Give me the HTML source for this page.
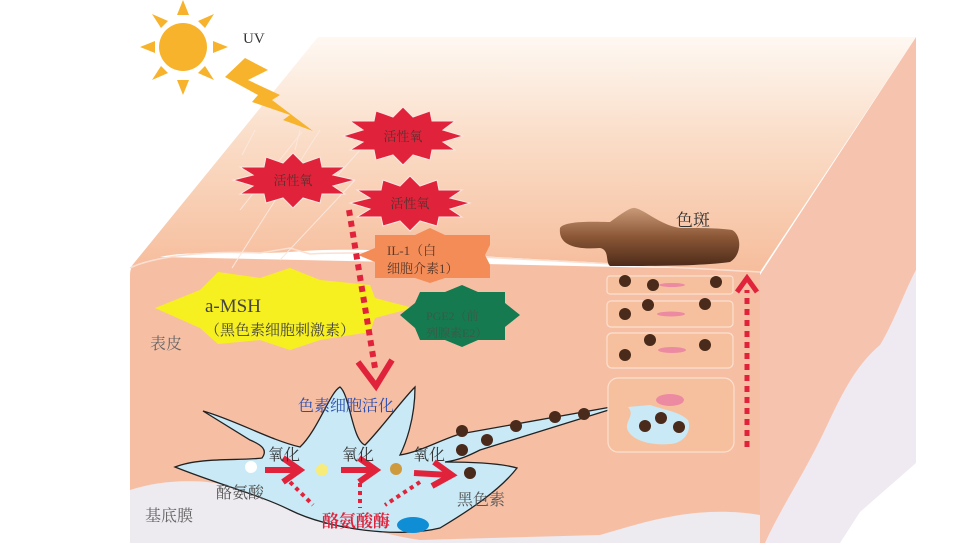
<!DOCTYPE html>
<html><head><meta charset="utf-8"><style>
html,body{margin:0;padding:0;background:#fff;width:962px;height:543px;overflow:hidden}
svg{display:block}
text{font-family:"Liberation Serif","Noto Serif CJK SC","Noto Sans CJK SC",serif}
</style></head><body>
<svg width="962" height="543" viewBox="0 0 962 543" xmlns="http://www.w3.org/2000/svg">
<defs>
<linearGradient id="top" x1="0" y1="0" x2="0" y2="1">
<stop offset="0" stop-color="#fef8f2"/><stop offset="0.45" stop-color="#fadcc6"/><stop offset="1" stop-color="#f6bd9c"/>
</linearGradient>
<linearGradient id="spot" x1="0" y1="0" x2="0" y2="1">
<stop offset="0" stop-color="#c99a78"/><stop offset="0.5" stop-color="#8a5636"/><stop offset="1" stop-color="#4e2c1a"/>
</linearGradient>
</defs>
<rect width="962" height="543" fill="#fff"/>
<!-- right face -->
<path d="M760,275 L916,37 L916,543 L760,543 Z" fill="#f6c3ae"/>
<path d="M916,270 C905,290 895,320 880,345 C850,370 835,410 820,440 C800,480 780,510 765,543 L916,543 Z" fill="#efeaf1"/>
<path d="M916,463 L860,512 L840,543 L916,543 Z" fill="#fff"/>
<!-- front face -->
<path d="M130,275 C130,262 140,258 160,257 L760,270 L760,543 L130,543 Z" fill="#f6bfa4"/>
<!-- top face -->
<path d="M318,37 L916,37 L760,272 C600,262 500,258 420,252 C380,250 330,248 290,252 C240,255 190,250 160,257 C145,260 135,262 130,268 Z" fill="url(#top)"/>
<path d="M130,268 C150,258 200,250 260,253 L290,248 L310,254 C380,250 500,258 760,272" fill="none" stroke="#fbe0d2" stroke-width="1.5"/>
<!-- basement membrane -->
<path d="M130,490 C160,480 200,478 230,486 C300,500 350,530 420,540 L600,535 C650,520 700,505 760,515 L760,543 L130,543 Z" fill="#edeaf0"/>
<!-- UV light streaks -->
<g stroke="#fbe7dc" stroke-width="1" fill="none">
<line x1="320" y1="130" x2="232" y2="268"/><line x1="302" y1="132" x2="240" y2="210"/><line x1="355" y1="180" x2="280" y2="260"/><line x1="360" y1="150" x2="320" y2="195"/><line x1="255" y1="130" x2="242" y2="155"/><line x1="300" y1="130" x2="295" y2="150"/>
</g>
<!-- sun -->
<g fill="#f7b32c">
<circle cx="183" cy="47" r="24"/>
<polygon points="183,0 177,15 189,15"/><polygon points="183,95 177,80 189,80"/>
<polygon points="140,47 155,41 155,53"/><polygon points="228,47 213,41 213,53"/>
<polygon points="152,14 161,28 168,21"/><polygon points="214,14 205,28 198,21"/>
<polygon points="152,80 161,66 168,73"/><polygon points="214,80 205,66 198,73"/>
</g>
<text x="243" y="43" font-size="15" fill="#333">UV</text>
<polygon points="245,58 225,77 258,95 252,102 290,115 283,120 313,131 272,100 280,95 248,80 268,70" fill="#f7b32c"/>
<!-- ROS bursts -->
<g fill="#e0233b" stroke="#fbe5df" stroke-width="1">
<polygon points="403,107 413,117 430,111 432,121 455,121 443,130 463,136 443,142 455,150 432,150 430,160 413,155 403,165 393,155 376,160 374,150 350,150 363,142 343,136 363,130 350,121 374,121 376,111 393,117"/>
<polygon points="293,153 303,163 320,157 322,167 345,167 333,175 355,180 333,186 345,194 322,194 320,203 303,198 293,208 283,198 266,203 264,194 240,194 253,186 233,180 253,175 240,167 264,167 266,157 283,163"/>
<polygon points="410,176 420,186 437,180 439,190 462,190 450,198 470,203 450,209 462,217 439,217 437,226 420,221 410,231 400,221 383,226 381,217 357,217 370,209 350,203 370,198 357,190 381,190 383,180 400,186"/>
</g>
<g font-size="13" fill="#5a3030" text-anchor="middle">
<text x="403" y="141">活性氧</text><text x="293" y="185">活性氧</text><text x="410" y="208">活性氧</text>
</g>
<!-- IL-1 -->
<polygon points="375,235 415,235 430,228 445,235 490,235 490,245 485,255 490,265 490,278 445,278 430,283 415,278 375,278 375,262 358,255 375,248" fill="#f48c58"/>
<text x="387" y="255" font-size="13" fill="#5a3a2a">IL-1（白</text>
<text x="387" y="273" font-size="13" fill="#5a3a2a">细胞介素1）</text>
<!-- a-MSH yellow -->
<polygon points="155,308 200,290 218,272 260,278 290,268 320,280 370,285 375,298 413,308 375,318 370,332 320,340 290,350 260,340 218,344 200,328" fill="#f7f020"/>
<text x="205" y="312" font-size="19" fill="#444" font-family="Liberation Sans,sans-serif">a-MSH</text>
<text x="205" y="335" font-size="15" fill="#444">（黑色素细胞刺激素）</text>
<!-- PGE2 green -->
<polygon points="400,315 415,303 420,292 445,292 462,285 478,292 505,292 505,303 520,315 505,327 505,340 478,340 462,347 445,340 420,340 415,328" fill="#157a4f"/>
<text x="426" y="320" font-size="12" fill="#3a5a48">PGE2（前</text>
<text x="426" y="337" font-size="12" fill="#3a5a48">列腺素E2）</text>
<!-- dotted arrow down -->
<line x1="349" y1="210" x2="375" y2="368" stroke="#e0233b" stroke-width="6" stroke-dasharray="6,5"/>
<polyline points="358,362 376,386 392,360" fill="none" stroke="#e0233b" stroke-width="6" stroke-linejoin="miter"/>
<text x="150" y="349" font-size="16" fill="#666">表皮</text>
<text x="145" y="521" font-size="16" fill="#666">基底膜</text>
<!-- melanocyte -->
<path d="M175,467 C200,457 240,461 262,458 C268,450 262,445 250,440 L203,411 C235,420 270,440 300,447 C318,430 330,392 340,387 C350,395 352,440 365,445 C380,430 402,400 415,387 C415,420 405,445 400,455 C420,452 440,440 460,434 L628,404 L480,450 C470,455 460,460 445,462 C470,462 500,463 517,468 C500,490 470,510 440,528 C400,538 330,530 290,510 C260,495 220,485 175,467 Z" fill="#c8e9f5" stroke="#222" stroke-width="1.3"/>
<circle cx="251" cy="467" r="6" fill="#fff"/>
<circle cx="322" cy="470" r="6" fill="#f7ec7a"/>
<circle cx="396" cy="469" r="6" fill="#cf9a3e"/>
<g fill="#4a2a1a">
<circle cx="462" cy="431" r="6"/><circle cx="462" cy="450" r="6"/><circle cx="487" cy="440" r="6"/><circle cx="516" cy="426" r="6"/><circle cx="555" cy="417" r="6"/><circle cx="584" cy="414" r="6"/><circle cx="470" cy="473" r="6"/>
</g>
<ellipse cx="413" cy="525" rx="16" ry="8" fill="#0f8ed6"/>
<g fill="none" stroke="#e0233b" stroke-width="6" stroke-linejoin="miter">
<line x1="265" y1="470" x2="298" y2="470"/><polyline points="283,458 300,470 283,482"/>
<line x1="341" y1="470" x2="374" y2="470"/><polyline points="359,458 376,470 359,482"/>
<line x1="414" y1="473" x2="449" y2="475"/><polyline points="434,462 452,475 432,486"/>
</g>
<g stroke="#e0233b" stroke-width="4" stroke-dasharray="4,4">
<line x1="290" y1="482" x2="313" y2="505"/><line x1="360" y1="483" x2="360" y2="508"/><line x1="420" y1="482" x2="385" y2="505"/>
</g>
<text x="298" y="411" font-size="16" fill="#2b4fb0">色素细胞活化</text>
<g font-size="16" fill="#333">
<text x="268" y="460">氧化</text><text x="342" y="460">氧化</text><text x="413" y="460">氧化</text>
</g>
<g font-size="16" fill="#555">
<text x="216" y="498">酪氨酸</text><text x="457" y="505">黑色素</text>
</g>
<text x="322" y="527" font-size="17" fill="#e0233b" font-weight="bold">酪氨酸酶</text>
<!-- right side: spot and cells -->
<path d="M560,228 C565,220 600,222 610,222 C620,215 630,207 635,208 C645,210 660,225 680,228 C700,228 720,228 732,230 C742,235 742,255 730,262 C700,266 660,266 610,266 C605,262 610,250 600,248 C575,250 558,245 560,228 Z" fill="url(#spot)"/>
<text x="676" y="226" font-size="17" fill="#333">色斑</text>
<g fill="#f6c09e" stroke="#fbe0d0" stroke-width="1.2">
<rect x="607" y="276" width="126" height="18" rx="3"/>
<rect x="607" y="301" width="126" height="26" rx="4"/>
<rect x="607" y="333" width="126" height="35" rx="5"/>
<rect x="608" y="378" width="126" height="74" rx="10"/>
</g>
<g fill="#ec8aa2">
<ellipse cx="672" cy="285" rx="13" ry="2"/><ellipse cx="671" cy="314" rx="14" ry="2.5"/><ellipse cx="672" cy="350" rx="14" ry="3"/><ellipse cx="670" cy="400" rx="14" ry="6"/>
</g>
<path d="M628,407 L650,405 C665,410 680,412 688,420 C692,430 685,443 670,444 C650,446 630,440 627,428 C626,420 635,415 628,407 Z" fill="#c8e9f5"/>
<g fill="#4a2a1a">
<circle cx="625" cy="281" r="6"/><circle cx="653" cy="285" r="6"/><circle cx="716" cy="282" r="6"/>
<circle cx="625" cy="314" r="6"/><circle cx="648" cy="305" r="6"/><circle cx="705" cy="304" r="6"/>
<circle cx="625" cy="355" r="6"/><circle cx="650" cy="340" r="6"/><circle cx="705" cy="345" r="6"/>
<circle cx="645" cy="426" r="6"/><circle cx="661" cy="418" r="6"/><circle cx="679" cy="427" r="6"/>
</g>
<line x1="747" y1="447" x2="747" y2="290" stroke="#e0233b" stroke-width="5" stroke-dasharray="6,5"/>
<polyline points="737,292 747,278 757,292" fill="none" stroke="#e0233b" stroke-width="5"/>
</svg>
</body></html>
